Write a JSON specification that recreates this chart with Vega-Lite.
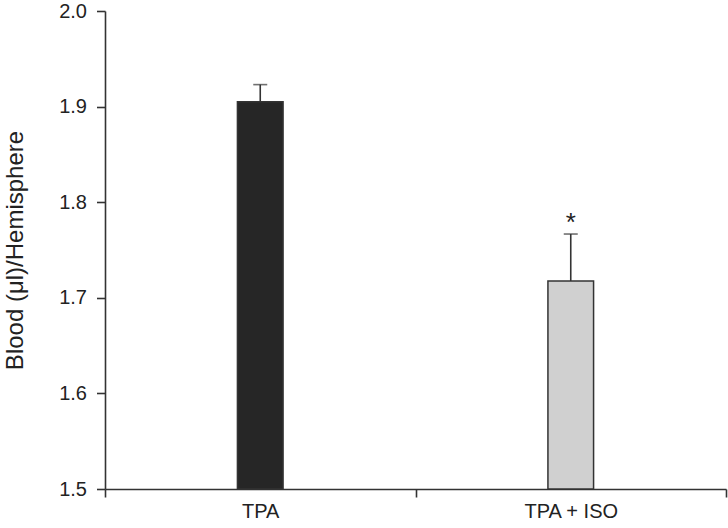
{
  "$schema": "https://vega.github.io/schema/vega-lite/v6.json",
  "autosize": "none",
  "width": 621,
  "height": 478,
  "padding": {"left": 105, "top": 11, "right": 2, "bottom": 39},
  "background": "white",
  "config": {
    "view": {"stroke": null},
    "font": "Liberation Sans",
    "axis": {"grid": false, "domainColor": "#333333", "tickColor": "#333333", "domainWidth": 1.6, "tickWidth": 1.6, "labelColor": "#222222", "titleColor": "#222222", "labelFont": "Liberation Sans", "titleFont": "Liberation Sans", "labelFontSize": 20, "titleFontSize": 24, "titleFontWeight": "normal"}
  },
  "data": {
    "values": [
      {"group": "TPA", "mean": 1.905, "upper": 1.923, "sig": ""},
      {"group": "TPA + ISO", "mean": 1.7176, "upper": 1.7667, "sig": "*"}
    ]
  },
  "encoding": {
    "x": {
      "field": "group", "type": "nominal", "sort": null,
      "scale": {"paddingInner": 0, "paddingOuter": 0},
      "axis": {"title": null, "labelAngle": 0, "tickBand": "extent", "tickSize": 8, "labelPadding": 4}
    }
  },
  "layer": [
    {
      "mark": {"type": "rule", "color": "#333333", "strokeWidth": 1.6},
      "encoding": {
        "y": {"field": "mean", "type": "quantitative"},
        "y2": {"field": "upper"}
      }
    },
    {
      "mark": {"type": "tick", "orient": "horizontal", "color": "#333333", "size": 14, "thickness": 1.6},
      "encoding": {
        "y": {"field": "upper", "type": "quantitative"}
      }
    },
    {
      "mark": {"type": "bar", "width": {"band": 0.147}, "stroke": "#333333", "strokeWidth": 1.5},
      "encoding": {
        "y": {
          "field": "mean", "type": "quantitative",
          "scale": {"domain": [1.5, 2.0], "zero": false, "nice": false},
          "axis": {"title": "Blood (μl)/Hemisphere", "values": [1.5, 1.6, 1.7, 1.8, 1.9, 2.0], "format": ".1f", "tickSize": 8.5, "labelPadding": 10, "titleX": -90, "titleBaseline": "middle", "titleAngle": -90}
        },
        "y2": {"datum": 1.5},
        "fill": {
          "field": "group", "type": "nominal", "legend": null,
          "scale": {"domain": ["TPA", "TPA + ISO"], "range": ["#262626", "#d0d0d0"]}
        }
      }
    },
    {
      "mark": {"type": "text", "fontSize": 26, "dy": 2, "baseline": "bottom", "color": "#222222", "font": "Liberation Sans"},
      "encoding": {
        "y": {"field": "upper", "type": "quantitative"},
        "text": {"field": "sig"}
      }
    }
  ]
}
